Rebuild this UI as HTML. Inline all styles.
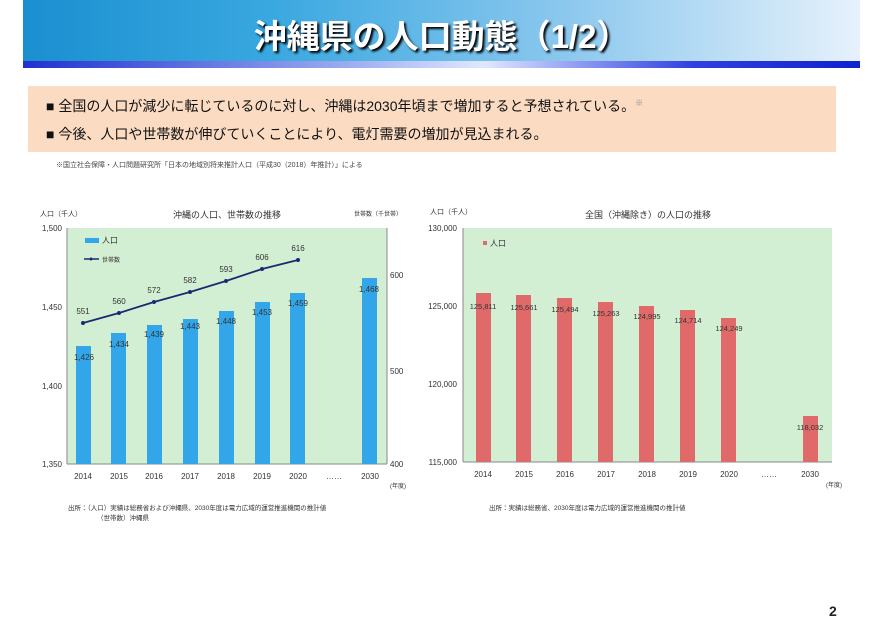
<!DOCTYPE html>
<html><head><meta charset="utf-8"><style>
body{margin:0;width:883px;height:622px;background:#fff;position:relative;overflow:hidden;font-family:"Liberation Sans","Noto Sans CJK JP",sans-serif}
.a{position:absolute;white-space:nowrap}
</style></head><body>
<div class="a" style="left:23px;top:0;width:837px;height:62px;background:linear-gradient(90deg,#1a8fd0 0%,#3aa8e0 30%,#8cc8ee 65%,#e6f1fb 100%)"></div>
<div class="a" style="left:23px;top:61px;width:837px;height:7px;background:linear-gradient(90deg,#2030d0 0%,#a0b0f0 40%,#e0e8ff 55%,#3040e0 80%,#1020d0 100%)"></div>
<div class="a" style="left:0;width:883px;top:10px;text-align:center;font-size:33px;font-weight:bold;color:#fff;text-shadow:2px 2px 2px #000">沖縄県の人口動態（1/2）</div>
<div class="a" style="left:28px;top:86px;width:808px;height:66px;background:#fbdcc3"></div>
<div class="a" style="left:46px;top:96px;font-size:14px;color:#111">■ 全国の人口が減少に転じているのに対し、沖縄は2030年頃まで増加すると予想されている。<sup style="font-size:8px;color:#888">※</sup></div>
<div class="a" style="left:46px;top:124px;font-size:14px;color:#111">■ 今後、人口や世帯数が伸びていくことにより、電灯需要の増加が見込まれる。</div>
<div class="a" style="left:56px;top:160px;font-size:7px;color:#444">※国立社会保障・人口問題研究所「日本の地域別将来推計人口（平成30（2018）年推計）」による</div>
<svg class="a" style="left:0;top:0" width="883" height="622" font-family="Liberation Sans,Noto Sans CJK JP,sans-serif" font-size="8" fill="#333">
<rect x="67" y="228" width="320" height="236" fill="#d3efd3"/>
<line x1="67" y1="228" x2="67" y2="464" stroke="#888"/><line x1="387" y1="228" x2="387" y2="464" stroke="#888"/><line x1="67" y1="464" x2="387" y2="464" stroke="#888"/>
<text x="40" y="216" font-size="7">人口（千人）</text><text x="354" y="216" font-size="6">世帯数（千世帯）</text>
<text x="227" y="218" text-anchor="middle" font-size="9">沖縄の人口、世帯数の推移</text>
<g text-anchor="end"><text x="62" y="231">1,500</text><text x="62" y="310">1,450</text><text x="62" y="389">1,400</text><text x="62" y="467">1,350</text></g>
<text x="390" y="278">600</text><text x="390" y="374">500</text><text x="390" y="467">400</text>
<g fill="#33a6ea">
<rect x="76" y="346" width="15" height="118"/><rect x="111" y="333" width="15" height="131"/><rect x="147" y="325" width="15" height="139"/><rect x="183" y="319" width="15" height="145"/><rect x="219" y="311" width="15" height="153"/><rect x="255" y="302" width="15" height="162"/><rect x="290" y="293" width="15" height="171"/><rect x="362" y="278" width="15" height="186"/>
<rect x="85" y="238" width="14" height="5"/></g>
<text x="102" y="243">人口</text>
<line x1="84" y1="259" x2="99" y2="259" stroke="#1a2a70" stroke-width="1.5"/><circle cx="91" cy="259" r="1.5" fill="#1a2a70"/><text x="102" y="262" font-size="6">世帯数</text>
<polyline points="83,323 119,313 154,302 190,292 226,281 262,269 298,260" fill="none" stroke="#1a2a70" stroke-width="1.8"/>
<g fill="#1a2a70"><circle cx="83" cy="323" r="2"/><circle cx="119" cy="313" r="2"/><circle cx="154" cy="302" r="2"/><circle cx="190" cy="292" r="2"/><circle cx="226" cy="281" r="2"/><circle cx="262" cy="269" r="2"/><circle cx="298" cy="260" r="2"/></g>
<g text-anchor="middle"><text x="83" y="314">551</text><text x="119" y="304">560</text><text x="154" y="293">572</text><text x="190" y="283">582</text><text x="226" y="272">593</text><text x="262" y="260">606</text><text x="298" y="251">616</text>
<text x="84" y="360">1,426</text><text x="119" y="347">1,434</text><text x="154" y="337">1,439</text><text x="190" y="329">1,443</text><text x="226" y="324">1,448</text><text x="262" y="315">1,453</text><text x="298" y="306">1,459</text><text x="369" y="292">1,468</text>
<text x="83" y="479">2014</text><text x="119" y="479">2015</text><text x="154" y="479">2016</text><text x="190" y="479">2017</text><text x="226" y="479">2018</text><text x="262" y="479">2019</text><text x="298" y="479">2020</text><text x="334" y="479">……</text><text x="370" y="479">2030</text></g>
<text x="390" y="488" font-size="6">(年度)</text>
<text x="68" y="510" font-size="6.5">出所：（人口）実績は総務省および沖縄県、2030年度は電力広域的運営推進機関の推計値</text>
<text x="97" y="520" font-size="6.5">（世帯数）沖縄県</text>

<rect x="463" y="228" width="369" height="234" fill="#d3efd3"/>
<line x1="463" y1="228" x2="463" y2="462" stroke="#888"/><line x1="463" y1="462" x2="832" y2="462" stroke="#888"/>
<text x="430" y="214" font-size="7">人口（千人）</text>
<text x="648" y="218" text-anchor="middle" font-size="9">全国（沖縄除き）の人口の推移</text>
<g text-anchor="end"><text x="457" y="231">130,000</text><text x="457" y="309">125,000</text><text x="457" y="387">120,000</text><text x="457" y="465">115,000</text></g>
<g fill="#e06a6a">
<rect x="476" y="293" width="15" height="169"/><rect x="516" y="295" width="15" height="167"/><rect x="557" y="298" width="15" height="164"/><rect x="598" y="302" width="15" height="160"/><rect x="639" y="306" width="15" height="156"/><rect x="680" y="310" width="15" height="152"/><rect x="721" y="318" width="15" height="144"/><rect x="803" y="416" width="15" height="46"/>
<rect x="483" y="241" width="4" height="4"/></g>
<text x="490" y="246">人口</text>
<g text-anchor="middle" font-size="7.5"><text x="483" y="309">125,811</text><text x="524" y="310">125,661</text><text x="565" y="312">125,494</text><text x="606" y="316">125,263</text><text x="647" y="319">124,995</text><text x="688" y="323">124,714</text><text x="729" y="331">124,249</text><text x="810" y="430">118,032</text>
<g font-size="8"><text x="483" y="477">2014</text><text x="524" y="477">2015</text><text x="565" y="477">2016</text><text x="606" y="477">2017</text><text x="647" y="477">2018</text><text x="688" y="477">2019</text><text x="729" y="477">2020</text><text x="769" y="477">……</text><text x="810" y="477">2030</text></g></g>
<text x="826" y="487" font-size="6">(年度)</text>
<text x="489" y="510" font-size="6.5">出所：実績は総務省、2030年度は電力広域的運営推進機関の推計値</text>
<text x="829" y="616" font-size="14" font-weight="bold" fill="#222">2</text>
</svg>
</body></html>
